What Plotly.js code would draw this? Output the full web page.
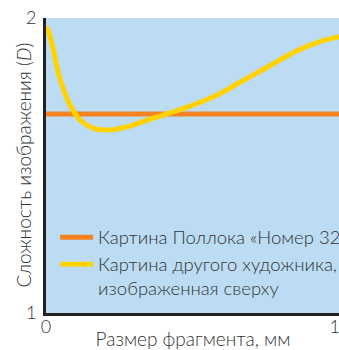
<!DOCTYPE html>
<html>
<head>
<meta charset="utf-8">
<script src="https://cdn.plot.ly/plotly-3.0.1.min.js"></script>
<style>html,body{margin:0;padding:0;overflow:hidden;background:#fff;}</style>
</head>
<body>
<div id="chart" style="width:360px;height:350px;"></div>
<script>
// Data
const pollockName = "Картина Поллока «Номер 32»";
const otherName = "Картина другого художника,<br>изображенная сверху";
const pollockX = [0, 10];
const pollockY = [1.675, 1.675];
const otherX = [0.0, 0.07, 0.24, 0.41, 0.58, 0.82, 1.16, 1.60, 2.08, 2.76, 3.54, 4.22, 4.90, 5.82, 6.60, 7.52, 8.54, 9.42, 10.0];
const otherY = [1.97, 1.959, 1.898, 1.817, 1.763, 1.705, 1.654, 1.627, 1.620, 1.631, 1.657, 1.678, 1.701, 1.739, 1.782, 1.833, 1.889, 1.923, 1.936];
const xTicks = [0, 10];
const yTicks = [1, 2];
const xTitle = "Размер фрагмента, мм";
const yTitle = "Сложность изображения (<i>D</i>)";

const fam = "Lato, Open Sans, sans-serif";
const txt = "#333";

Plotly.newPlot("chart", [
  {x: pollockX, y: pollockY, name: pollockName, mode: "lines",
   line: {color: "#F58220", width: 5}},
  {x: otherX, y: otherY, name: otherName, mode: "lines",
   line: {color: "#FFD200", width: 5, shape: "spline", smoothing: 1}}
], {
  width: 360, height: 350,
  margin: {l: 46, r: 20, t: 18, b: 37, autoexpand: false},
  paper_bgcolor: "#fff",
  plot_bgcolor: "#BBDCF2",
  font: {family: fam, color: txt, size: 16, weight: 300},
  showlegend: true,
  legend: {x: 0.031, y: 0.32, xanchor: "left", yanchor: "top", bgcolor: "rgba(0,0,0,0)",
           font: {family: fam, size: 18.5, color: txt, weight: 300}, valign: "top",
           itemwidth: 33, tracegroupgap: 9},
  annotations: [{text: yTitle, xref: "paper", yref: "paper", x: -0.078, y: 0.5,
                 xanchor: "center", yanchor: "middle", textangle: -90, showarrow: false,
                 font: {family: fam, size: 19, color: txt, weight: 300}}],
  xaxis: {range: [0, 10], tickvals: xTicks, ticktext: xTicks.map(String), showgrid: false, zeroline: false,
          showline: true, linecolor: "#222", linewidth: 3, ticks: "", ticklabeloverflow: "allow",
          ticklabelstandoff: -5, automargin: false,
          tickfont: {family: fam, size: 18, color: txt, weight: 300},
          title: {text: xTitle, font: {family: fam, size: 19, color: txt, weight: 300}, standoff: 5}},
  yaxis: {range: [1, 2], tickvals: yTicks, ticktext: yTicks.map(String), showgrid: false, zeroline: false,
          showline: true, linecolor: "#222", linewidth: 3, ticks: "", ticklabeloverflow: "allow",
          ticklabelstandoff: 3, automargin: false,
          tickfont: {family: fam, size: 18, color: txt, weight: 300}}
}, {displayModeBar: false, staticPlot: true});
</script>
</body>
</html>
